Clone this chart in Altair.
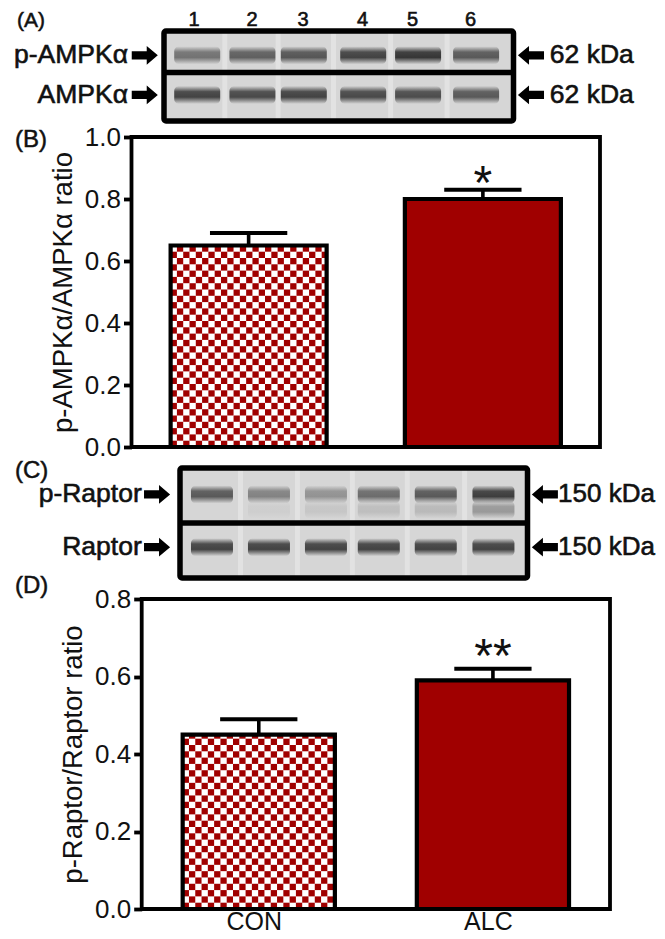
import altair as alt
import pandas as pd

# ---------- values ----------
groups = ["CON", "ALC"]
ampk_means = [0.65, 0.80]
ampk_errs = [0.04, 0.03]
raptor_means = [0.45, 0.59]
raptor_errs = [0.04, 0.03]
ampk_ticks = [0.0, 0.2, 0.4, 0.6, 0.8, 1.0]
raptor_ticks = [0.0, 0.2, 0.4, 0.6, 0.8]
lanes = ["1", "2", "3", "4", "5", "6"]

pampk_band = [0.62, 0.74, 0.80, 0.92, 1.0, 0.78]
ampk_band = [0.92, 0.88, 0.92, 0.88, 0.86, 0.78]
praptor_band = [0.78, 0.52, 0.42, 0.66, 0.78, 0.95]
praptor_low = [0.0, 0.05, 0.10, 0.15, 0.18, 0.38]
raptor_band = [0.92, 0.92, 0.92, 0.92, 0.92, 0.92]

# lane centres, as fractions of each blot's width
a_lane_x = [0.095, 0.253, 0.400, 0.570, 0.727, 0.893]
a_num_x = [0.086, 0.252, 0.398, 0.568, 0.711, 0.877]
c_lane_x = [0.092, 0.256, 0.420, 0.572, 0.736, 0.902]

W, H = 649, 926
DARK = "#a00000"
FONT = "Liberation Sans"


def page_x(a, b):
    return [a - 8, b - 8]


def page_y(bottom, top):
    return [bottom - 8, top - 8]


def bar_panel(means, errs, ticks, title, xr, yr, ymax, half, star, star_y, show_x, cell_y):
    xs = alt.Scale(domain=[-0.5, 1.5], range=xr)
    ys = alt.Scale(domain=[0, ymax], range=yr)

    frame_df = pd.DataFrame({"x": [-0.5], "x2": [1.5], "y": [0.0], "y2": [ymax]})
    frame = alt.Chart(frame_df).mark_rect(filled=False, stroke="black", strokeWidth=3.8).encode(
        x=alt.X("x:Q", scale=xs,
                axis=alt.Axis(orient="bottom", offset=-(H - yr[0]), values=[0, 1],
                              labelExpr="datum.value == 0 ? 'CON' : 'ALC'", title=None, domain=False,
                              ticks=False, grid=False, labelFontSize=25, labelColor="#111",
                              labelFont=FONT, labelPadding=0, labelOffset=-5, labels=show_x)),
        x2="x2:Q",
        y=alt.Y("y:Q", scale=ys,
                axis=alt.Axis(orient="left", offset=-xr[0], values=ticks, format=".1f", title=title,
                              grid=False, domain=False, tickSize=8, tickWidth=3.8, tickColor="black",
                              labelFontSize=26, labelColor="#111", labelFont=FONT, labelPadding=3,
                              titleFontSize=27.5, titleFontWeight="normal", titleColor="#111",
                              titleFont=FONT, titlePadding=7)),
        y2="y2:Q",
    )

    bars_df = pd.DataFrame({"g": groups, "pos": [0, 1], "mean": means, "top": [m + e for m, e in zip(means, errs)]})
    bars_df["l"] = bars_df["pos"] - half
    bars_df["r"] = bars_df["pos"] + half
    bars_df["cl"] = bars_df["pos"] - 0.165
    bars_df["cr"] = bars_df["pos"] + 0.165
    bars_df["zero"] = 0.0

    solid = alt.Chart(bars_df[bars_df.g == "ALC"]).mark_rect(color=DARK).encode(
        x=alt.X("l:Q", scale=xs, axis=None), x2="r:Q",
        y=alt.Y("zero:Q", scale=ys, axis=None), y2="mean:Q")
    white = alt.Chart(bars_df[bars_df.g == "CON"]).mark_rect(color="white").encode(
        x=alt.X("l:Q", scale=xs, axis=None), x2="r:Q",
        y=alt.Y("zero:Q", scale=ys, axis=None), y2="mean:Q")

    # checkerboard filling of the CON bar, cell by cell within the bar's own extent
    cell_x = 6.3 / 234.5
    cells = []
    m0 = means[0]
    nx = int(2 * half / cell_x) + 1
    ny = int(m0 / cell_y) + 1
    for i in range(nx):
        for j in range(ny):
            if (i + j) % 2 == 0:
                cells.append({"x": -half + i * cell_x, "x2": min(-half + (i + 1) * cell_x, half),
                              "y": j * cell_y, "y2": min((j + 1) * cell_y, m0)})
    checker = alt.Chart(pd.DataFrame(cells)).mark_rect(color=DARK).encode(
        x=alt.X("x:Q", scale=xs, axis=None), x2="x2:Q",
        y=alt.Y("y:Q", scale=ys, axis=None), y2="y2:Q")

    outline = alt.Chart(bars_df).mark_rect(filled=False, stroke="black", strokeWidth=4.2).encode(
        x=alt.X("l:Q", scale=xs, axis=None), x2="r:Q",
        y=alt.Y("zero:Q", scale=ys, axis=None), y2="mean:Q")
    stem = alt.Chart(bars_df).mark_rule(color="black", strokeWidth=3.6).encode(
        x=alt.X("pos:Q", scale=xs, axis=None),
        y=alt.Y("mean:Q", scale=ys, axis=None), y2="top:Q")
    cap = alt.Chart(bars_df).mark_rule(color="black", strokeWidth=4).encode(
        x=alt.X("cl:Q", scale=xs, axis=None), x2="cr:Q",
        y=alt.Y("top:Q", scale=ys, axis=None))
    stars = alt.Chart(pd.DataFrame({"x": [1], "y": [star_y], "t": [star]})).mark_text(
        font=FONT, fontSize=48, color="#111", baseline="middle", align="center", dy=7).encode(
        x=alt.X("x:Q", scale=xs, axis=None), y=alt.Y("y:Q", scale=ys, axis=None), text="t:N")
    marks = alt.layer(white, checker, solid, outline, stem, cap, stars).resolve_scale(x="shared", y="shared")
    return frame, marks


def blot_panel(xr, yr, row_y, divider, lane_x, rows, names, name_x, arrow_l, arrow_r, kda, kda_x,
               low=None, low_y=None, band_px=46, numbers=None, kda_size=26.5):
    xs = alt.Scale(domain=[0, 1], range=xr)
    ys = alt.Scale(domain=[0, 1], range=yr)
    X = lambda f: alt.X(f, scale=xs, axis=None)
    Y = lambda f: alt.Y(f, scale=ys, axis=None)

    bg = alt.Chart(pd.DataFrame({"x": [0.0], "x2": [1.0], "y": [0.0], "y2": [1.0]})).mark_rect(
        color="#d6d6d6").encode(x=X("x:Q"), x2="x2:Q", y=Y("y:Q"), y2="y2:Q")

    gaps = [(lane_x[i] + lane_x[i + 1]) / 2 for i in range(5)]
    gap = alt.Chart(pd.DataFrame({"x": gaps})).mark_rule(color="white", opacity=0.3, strokeWidth=5).encode(
        x=X("x:Q"), y=alt.value(yr[1]), y2=alt.value(yr[0]))

    grad = alt.LinearGradient(gradient="linear", x1=0, x2=0, y1=0, y2=1, stops=[
        alt.GradientStop(color="rgba(40,40,40,0)", offset=0),
        alt.GradientStop(color="rgba(40,40,40,0.85)", offset=0.32),
        alt.GradientStop(color="rgba(40,40,40,0.92)", offset=0.62),
        alt.GradientStop(color="rgba(40,40,40,0)", offset=1)])
    recs = []
    for r, vals in enumerate(rows):
        for x, v in zip(lane_x, vals):
            recs.append({"x": x, "y": row_y[r], "v": v})
    if low is not None:
        for x, v in zip(lane_x, low):
            recs.append({"x": x, "y": low_y, "v": v})
    bands = alt.Chart(pd.DataFrame(recs)).mark_rect(fill=grad, width=band_px, height=18, cornerRadius=5).encode(
        x=X("x:Q"), y=Y("y:Q"),
        opacity=alt.Opacity("v:Q", scale=alt.Scale(domain=[0, 1], range=[0, 1]), legend=None))

    frame = alt.Chart(pd.DataFrame({"x": [0.0], "x2": [1.0], "y": [0.0], "y2": [1.0]})).mark_rect(
        filled=False, stroke="black", strokeWidth=5.5, cornerRadius=2).encode(
        x=X("x:Q"), x2="x2:Q", y=Y("y:Q"), y2="y2:Q")
    div = alt.Chart(pd.DataFrame({"x": [0.0], "x2": [1.0], "y": [divider]})).mark_rule(
        color="black", strokeWidth=5.5).encode(x=X("x:Q"), x2="x2:Q", y=Y("y:Q"))

    name_df = pd.DataFrame({"x": [name_x, name_x], "y": row_y, "t": names})
    name_t = alt.Chart(name_df).mark_text(font=FONT, fontSize=26.5, color="#111", align="right", baseline="middle",
                                          stroke="#111", strokeWidth=0.6).encode(
        x=X("x:Q"), y=Y("y:Q"), text="t:N")
    kda_df = pd.DataFrame({"x": [kda_x, kda_x], "y": row_y, "t": [kda, kda]})
    kda_t = alt.Chart(kda_df).mark_text(font=FONT, fontSize=kda_size, color="#111", align="left", baseline="middle",
                                        stroke="#111", strokeWidth=0.6).encode(
        x=X("x:Q"), y=Y("y:Q"), text="t:N")

    right = "M -1 -0.32 L 0.15 -0.32 L 0.15 -0.72 L 1 0 L 0.15 0.72 L 0.15 0.32 L -1 0.32 Z"
    left = "M 1 -0.32 L -0.15 -0.32 L -0.15 -0.72 L -1 0 L -0.15 0.72 L -0.15 0.32 L 1 0.32 Z"
    arr_r = alt.Chart(pd.DataFrame({"x": [arrow_l, arrow_l], "y": row_y})).mark_point(
        shape=right, filled=True, color="black", opacity=1, size=680).encode(x=X("x:Q"), y=Y("y:Q"))
    arr_l = alt.Chart(pd.DataFrame({"x": [arrow_r, arrow_r], "y": row_y})).mark_point(
        shape=left, filled=True, color="black", opacity=1, size=680).encode(x=X("x:Q"), y=Y("y:Q"))

    parts = [bg, gap, bands, frame, div, name_t, kda_t, arr_r, arr_l]
    if numbers:
        n_df = pd.DataFrame({"x": numbers, "y": [-0.122] * 6, "t": lanes})
        parts.append(alt.Chart(n_df).mark_text(font=FONT, fontSize=20, color="#111", align="center",
                                               baseline="middle", stroke="#111", strokeWidth=0.6).encode(
            x=X("x:Q"), y=Y("y:Q"), text="t:N"))
    return alt.layer(*parts).resolve_scale(x="shared", y="shared")


blot_a = blot_panel(page_x(164, 513.5), page_y(31, 121), [0.27, 0.71], 0.46, a_lane_x,
                    [pampk_band, ampk_band], ["p-AMPKα", "AMPKα"], -0.103, -0.055, 1.05, "62 kDa", 1.104,
                    numbers=a_num_x)
blot_c = blot_panel(page_x(180, 527.5), page_y(468, 578), [0.24, 0.72], 0.5, c_lane_x,
                    [praptor_band, raptor_band], ["p-Raptor", "Raptor"], -0.11, -0.066, 1.05, "150 kDa", 1.088,
                    low=praptor_low, low_y=0.38, band_px=42, kda_size=26)

frame_b, marks_b = bar_panel(ampk_means, ampk_errs, ampk_ticks, "p-AMPKα/AMPKα ratio",
                             page_x(131.5, 600), page_y(447, 137), 1.0, 0.333, "*", 0.868, False, 6.3 / 310)
frame_d, marks_d = bar_panel(raptor_means, raptor_errs, raptor_ticks, "p-Raptor/Raptor ratio",
                             page_x(141.7, 610), page_y(909, 599), 0.8, 0.325, "**", 0.665, True, 6.3 / 387)

letters = alt.Chart(pd.DataFrame({
    "t": ["(A)", "(B)", "(C)", "(D)"],
    "px": [9, 7, 7, 7],
    "py": [13, 132, 463, 578],
    "s": [21, 24, 24, 24]})).mark_text(
    font=FONT, color="#111", align="left", baseline="middle", stroke="#111", strokeWidth=0.5).encode(
    x=alt.X("px:Q", scale=None, axis=None), y=alt.Y("py:Q", scale=None, axis=None), text="t:N",
    size=alt.Size("s:Q", scale=None, legend=None))

chart = alt.layer(frame_b, marks_b, frame_d, marks_d, blot_a, blot_c, letters).resolve_scale(
    x="independent", y="independent", opacity="independent"
).resolve_axis(x="independent", y="independent").properties(
    width=W, height=H, padding=0, autosize=alt.AutoSizeParams(type="none")
).configure_view(stroke=None)

chart.save("out.html", embed_options={"renderer": "svg", "actions": False})
